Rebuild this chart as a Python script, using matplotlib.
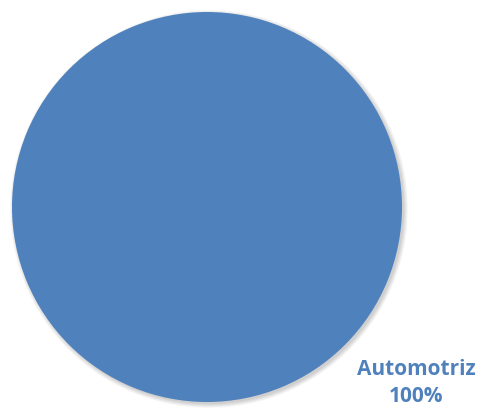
import matplotlib
matplotlib.use("Agg")
import matplotlib.pyplot as plt
from matplotlib.patches import Circle

labels = ["Automotriz"]
values = [100]
colors = ["#4F81BD"]

fig = plt.figure(figsize=(4.87, 4.10), dpi=100)
ax = fig.add_axes([0, 0, 1, 1])
ax.set_xlim(0, 487)
ax.set_ylim(0, 410)
ax.set_aspect("equal")
ax.axis("off")

cx, cy, r = 207, 202, 195

# soft shadow
for i in range(8):
    ax.add_patch(Circle((cx + 2, cy - 2), r + 4 - i * 0.6, color="black",
                        alpha=0.025, lw=0, zorder=0))

wedges, _ = ax.pie(values, colors=colors, radius=r, center=(cx, cy),
                   startangle=90, frame=True,
                   wedgeprops=dict(linewidth=0))
ax.set_xlim(0, 487)
ax.set_ylim(0, 410)
ax.axis("off")

total = sum(values)
ax.text(416, 27, f"{labels[0]}\n{values[0] / total * 100:.0f}%",
        ha="center", va="center", color="#4F81BD", fontsize=15,
        fontweight="bold", family="Open Sans", linespacing=1.32)

fig.savefig("out.png", dpi=100)
